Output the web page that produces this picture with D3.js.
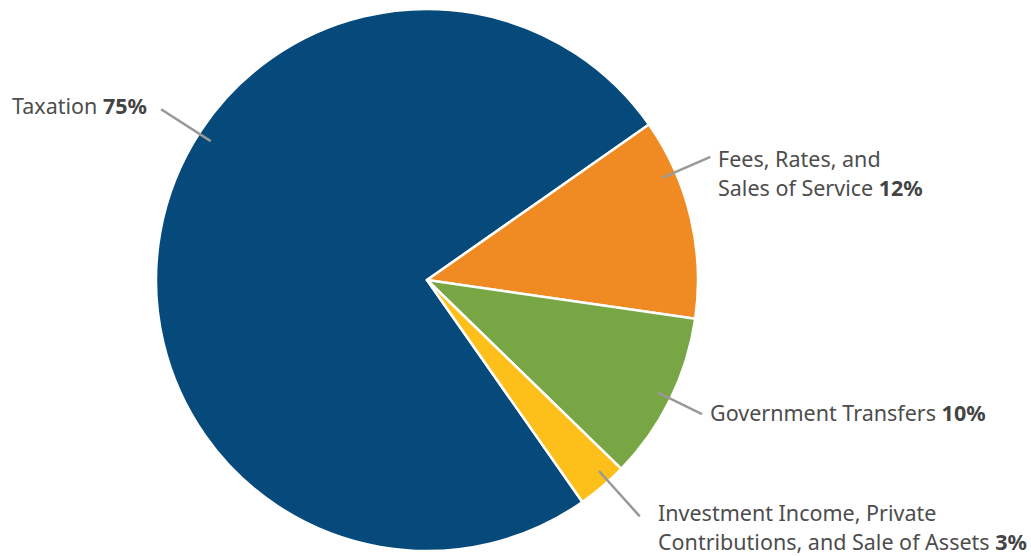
<!DOCTYPE html>
<html>
<head>
<meta charset="utf-8">
<script src="https://cdn.jsdelivr.net/npm/d3@7"></script>
<style>
  html, body { margin: 0; padding: 0; background: #fff; }
  svg { display: block; }
  text { font-family: "Noto Sans", "Open Sans", sans-serif; fill: #4d4d4d; }
  .pct { font-weight: 700; fill: #444; }
</style>
</head>
<body>
<svg id="chart" width="1031" height="556"></svg>
<script>
// Revenue sources, share of total (%)
const categories = ["Taxation", "Fees, Rates, and Sales of Service", "Government Transfers", "Investment Income, Private Contributions, and Sale of Assets"];
const values = [75, 12, 10, 3];
const colors = ["#054a7b", "#ef8b22", "#79a644", "#fdc01b"];
// Label text, split into lines; the last line carries the bold percentage
const labelLines = [
  ["Taxation"],
  ["Fees, Rates, and", "Sales of Service"],
  ["Government Transfers"],
  ["Investment Income, Private", "Contributions, and Sale of Assets"]
];
// Leader line angle (degrees, clockwise from 12 o'clock) and label anchor
const leaderAngles = [-57.3, 66.5, 116, 138];
const labelAnchors = [[12, 114], [718, 167], [710, 421], [658, 521]];

const svg = d3.select("#chart");
const cx = 427, cy = 280, radius = 271;
const rad = d => d * Math.PI / 180;

const data = categories.map((c, i) => ({ name: c, value: values[i], color: colors[i], i }));

const pie = d3.pie()
  .sort(null)
  .value(d => d.value)
  .startAngle(rad(55 - 270))
  .endAngle(rad(55 + 90));

const arc = d3.arc().innerRadius(0).outerRadius(radius);

const g = svg.append("g").attr("transform", `translate(${cx},${cy})`);

g.selectAll("path.slice")
  .data(pie(data))
  .join("path")
  .attr("class", "slice")
  .attr("d", arc)
  .attr("fill", d => d.data.color)
  .attr("stroke", "#fff")
  .attr("stroke-width", 2.5)
  .attr("stroke-linejoin", "round");

// Radial leader lines
const rIn = 257, rOut = [316, 309, 306, 318];
g.selectAll("line.leader")
  .data(data)
  .join("line")
  .attr("class", "leader")
  .each(function(d) {
    const a = rad(leaderAngles[d.i]);
    const p0 = d3.pointRadial(a, rIn);
    const p1 = d3.pointRadial(a, rOut[d.i]);
    d3.select(this)
      .attr("x1", p0[0]).attr("y1", p0[1])
      .attr("x2", p1[0]).attr("y2", p1[1]);
  })
  .attr("stroke", "#999")
  .attr("stroke-width", 2.5);

// Labels
const lineH = 28.5;
const fs = 21.5;
data.forEach(d => {
  const [x, y] = labelAnchors[d.i];
  const t = svg.append("text")
    .attr("x", x).attr("y", y)
    .attr("font-size", fs);
  const lines = labelLines[d.i];
  lines.forEach((ln, k) => {
    t.append("tspan")
      .attr("x", x)
      .attr("dy", k === 0 ? 0 : lineH)
      .text(ln);
    if (k === lines.length - 1) {
      t.append("tspan").attr("class", "pct").text(" " + d.value + "%");
    }
  });
});
</script>
</body>
</html>
